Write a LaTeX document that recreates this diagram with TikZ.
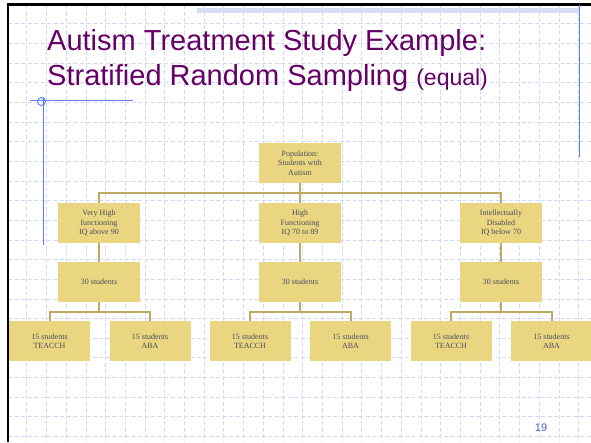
\documentclass[tikz,border=0pt]{standalone}
\usepackage{fontspec}
\setmainfont{Liberation Serif}
\newfontfamily\arialfont{Liberation Sans}
\definecolor{boxfill}{RGB}{234,214,128}
\definecolor{conncol}{RGB}{190,170,98}
\definecolor{boxtext}{RGB}{75,75,95}
\definecolor{titlecol}{RGB}{102,0,102}
\definecolor{gridcol}{RGB}{208,218,248}
\definecolor{bluecol}{RGB}{95,125,235}
\definecolor{bandcol}{RGB}{214,221,247}
\definecolor{numcol}{RGB}{80,100,170}
\tikzset{
  gridline/.style={draw=gridcol,line width=0.65pt,dash pattern=on 4pt off 2.5pt},
  blueline/.style={draw=bluecol,line width=0.9pt},
  box/.style={fill=boxfill,minimum width=82pt,minimum height=40pt,inner sep=0pt,align=center,
    text=boxtext,font=\fontsize{8}{9.4}\selectfont},
  leaf/.style={box,minimum width=81pt},
  conn/.style={draw=conncol,line width=2pt},
  titletext/.style={anchor=base west,inner sep=0pt,text=titlecol,font=\arialfont\fontsize{29}{35}\selectfont}
}
\begin{document}
\begin{tikzpicture}[x=1pt,y=-1pt]
\useasboundingbox (0,0) rectangle (591,442);
\fill[white] (0,0) rectangle (591,442);
% grid
\foreach \k in {1,...,29} \draw[gridline] ({7+19.71*\k},5) -- ({7+19.71*\k},442);
\foreach \k in {1,...,22} \draw[gridline] (8,{4.1+19.65*\k}) -- (591,{4.1+19.65*\k});
% top band
\fill[bandcol] (197,8) rectangle (579,13);
% frame
\draw[line width=2.4pt] (7.8,442) -- (7.8,4.4) -- (591,4.4);
% blue guide lines
\draw[blueline] (579,5) -- (579,157);
\draw[blueline] (30,100.7) -- (133,100.7);
\draw[blueline] (41.5,101.5) circle (4pt);
\draw[blueline] (43,97) -- (43,245);
% title
\node[titletext] (t1) at (47,50) {Autism Treatment Study Example:};
\node[titletext] (t2) at (47,85) {Stratified Random Sampling {\fontsize{23}{28}\selectfont(equal)}};
% boxes
\node[box] (pop) at (300,163) {Population:\\Students with\\Autism};
\node[box] (s1) at (99,223) {Very High\\functioning\\IQ above 90};
\node[box] (s2) at (300,223) {High\\Functioning\\IQ 70 to 89};
\node[box] (s3) at (501,223) {Intellectually\\Disabled\\IQ below 70};
\node[box] (n1) at (99,282) {30 students};
\node[box] (n2) at (300,282) {30 students};
\node[box] (n3) at (501,282) {30 students};
\node[leaf] (l1) at (49.5,341) {15 students\\TEACCH};
\node[leaf] (r1) at (150,341) {15 students\\ABA};
\node[leaf] (l2) at (250,341) {15 students\\TEACCH};
\node[leaf] (r2) at (350.5,341) {15 students\\ABA};
\node[leaf] (l3) at (451,341) {15 students\\TEACCH};
\node[leaf] (r3) at (551.5,341) {15 students\\ABA};
% connectors
\draw[conn] (pop.south) -- (s2.north);
\draw[conn] (s1.north) -- ++(0,-10) -| (s3.north);
\draw[conn] (s1) -- (n1);
\draw[conn] (s2) -- (n2);
\draw[conn] (s3) -- (n3);
\draw[conn] (n1.south) -- ++(0,10);
\draw[conn] (n2.south) -- ++(0,10);
\draw[conn] (n3.south) -- ++(0,10);
\draw[conn] (l1.north) -- ++(0,-9) -| (r1.north);
\draw[conn] (l2.north) -- ++(0,-9) -| (r2.north);
\draw[conn] (l3.north) -- ++(0,-9) -| (r3.north);
% page number
\node[text=numcol,font=\arialfont\fontsize{11}{13}\selectfont,inner sep=0pt] (pg) at (541,427.5) {19};
\end{tikzpicture}
\end{document}
